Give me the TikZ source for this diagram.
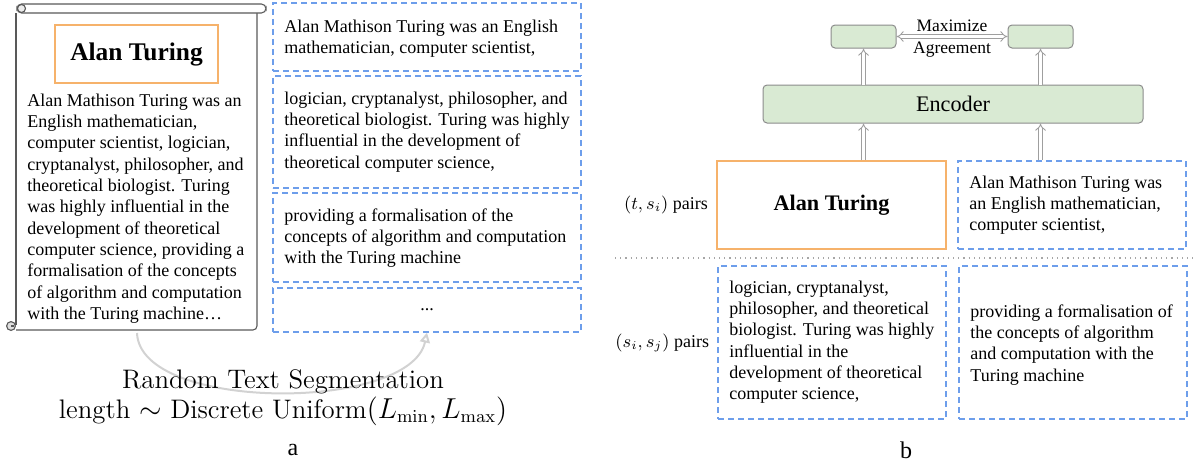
\documentclass[tikz,border=0pt]{standalone}
\usepackage[no-math]{fontspec}
\setmainfont{Liberation Serif}
\newfontfamily\lmfont{Latin Modern Roman}
\usetikzlibrary{arrows.meta,positioning,fit}
\definecolor{segblue}{HTML}{6D9EEB}
\definecolor{titleorange}{HTML}{F6B26B}
\definecolor{encgreen}{HTML}{D9EAD3}
\tikzset{
  txt/.style={font=\fontsize{9}{10.65}\selectfont, align=left, inner sep=0pt, anchor=north west},
  segbox/.style={draw=segblue, dash pattern=on 3pt off 2pt, line width=0.6pt, inner sep=0pt},
  titlebox/.style={draw=titleorange, line width=0.8pt, inner sep=0pt},
  encbox/.style={draw=gray!90, fill=encgreen, rounded corners=2pt, line width=0.5pt, inner sep=0pt},
  hollow/.style={draw=gray!75, double=white, double distance=1.4pt, line width=0.45pt},
  scrollln/.style={draw=black!65, line width=0.55pt},
}
\begin{document}
\begin{tikzpicture}[x=0.5pt,y=-0.5pt]
\useasboundingbox (0,0) rectangle (1193,466);
% a: scroll
\draw[scrollln] (16,13)--(16,325);
\draw[scrollln,rounded corners=2pt] (16,330)--(257,330)--(257,13);
\draw[scrollln,fill=white,rounded corners=2.3pt] (17,4) rectangle (266,13);
\draw[scrollln,fill=gray!15] (21.5,8.5) circle (2pt);
\draw[scrollln,fill=gray!25] (11,326) circle (2.2pt);
\draw[scrollln] (11,326)--(14,326);
\node[titlebox,fit={(55,25) (218,83)}] (ta) {};
\node[font=\fontsize{12.7}{14}\selectfont\bfseries] (tatxt) at (ta.center) {Alan Turing};
\node[txt] (doc) at (27,91) {\strut Alan Mathison Turing was an\\English mathematician,\\computer scientist, logician,\\cryptanalyst, philosopher, and\\theoretical biologist. Turing\\was highly influential in the\\development of theoretical\\computer science, providing a\\formalisation of the concepts\\of algorithm and computation\\with the Turing machine…};
% a: segments
\node[segbox,fit={(273,3) (581,71)}] (sa1) {};
\node[segbox,fit={(273,76) (581,188)}] (sa2) {};
\node[segbox,fit={(273,193) (581,282)}] (sa3) {};
\node[segbox,fit={(273,288) (581,332)}] (sa4) {};
\node[txt] (sa1txt) at (284,17) {\strut Alan Mathison Turing was an English\\mathematician, computer scientist,};
\node[txt] (sa2txt) at (284,89) {\strut logician, cryptanalyst, philosopher, and\\theoretical biologist. Turing was highly\\influential in the development of\\theoretical computer science,};
\node[txt] (sa3txt) at (284,206) {\strut providing a formalisation of the\\concepts of algorithm and computation\\with the Turing machine};
\node[font=\fontsize{9}{10.65}\selectfont] (sa4txt) at (sa4.center) {...};
\coordinate (cs) at (137,333);
\draw[gray!35,line width=1pt,-{Triangle[open,length=5pt,width=5pt]}] (cs) .. controls (140,412) and (410,412) .. (sa4.south);
\node[font=\lmfont\fontsize{13.4}{15}\selectfont,align=center,anchor=base] (cap) at (283,418) {Random Text Segmentation\\length $\sim$ Discrete Uniform$(L_{\min}, L_{\max})$};
\node[font=\fontsize{12}{14}\selectfont] (la) at (293,450) {a};
% b: encoder
\node[encbox,fit={(831,25) (896,48)}] (gl) {};
\node[encbox,fit={(1008,25) (1073,48)}] (gr) {};
\node[encbox,fit={(763,85) (1143,123)}] (enc) {};
\node[font=\fontsize{11.1}{13}\selectfont] (enctxt) at (enc.center) {Encoder};
\draw[hollow,{Implies}-{Implies}] (gl.east) -- (gr.west)
  node[midway,above=-1pt,font=\fontsize{8.75}{10}\selectfont] (maxtxt) {Maximize}
  node[midway,below=-1pt,font=\fontsize{8.75}{10}\selectfont] (agrtxt) {Agreement};
% b: pairs
\node[titlebox,fit={(717,161) (946,249)}] (tb) {};
\node[font=\fontsize{11.1}{13}\selectfont\bfseries] (tbtxt) at (tb.center) {Alan Turing};
\node[segbox,fit={(958,161) (1186,249)}] (sb1) {};
\node[segbox,fit={(718,266) (946,419)}] (sb2) {};
\node[segbox,fit={(959,266) (1187,419)}] (sb3) {};
\node[txt] (sb1txt) at (969,173) {\strut Alan Mathison Turing was\\an English mathematician,\\computer scientist,};
\node[txt] (sb2txt) at (729,278) {\strut logician, cryptanalyst,\\philosopher, and theoretical\\biologist. Turing was highly\\influential in the\\development of theoretical\\computer science,};
\node[txt] (sb3txt) at (970,302) {\strut providing a formalisation of\\the concepts of algorithm\\and computation with the\\Turing machine};
\node[font=\fontsize{9}{10.65}\selectfont,inner sep=0pt,left=4pt of tb] (tsl) {$(t,s_i)$ pairs};
\node[font=\fontsize{9}{10.65}\selectfont,inner sep=0pt,left=4pt of sb2] (ssl) {$(s_i,s_j)$ pairs};
\coordinate (dl) at (615,258);
\coordinate (dr) at (1193,258);
\draw[gray!70,dotted,line width=0.6pt] (dl)--(dr);
\draw[hollow,-{Implies}] (tb.north -| gl.south) -- (enc.south -| gl.south);
\draw[hollow,-{Implies}] (sb1.north -| gr.south) -- (enc.south -| gr.south);
\draw[hollow,-{Implies}] (enc.north -| gl.south) -- (gl.south);
\draw[hollow,-{Implies}] (enc.north -| gr.south) -- (gr.south);
\node[font=\fontsize{12}{14}\selectfont] (lb) at (906,450) {b};
\end{tikzpicture}
\end{document}
